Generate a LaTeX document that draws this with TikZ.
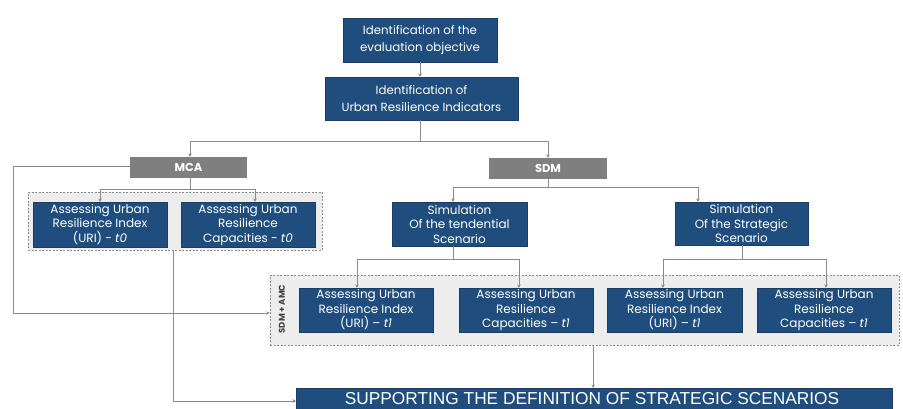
\documentclass[tikz,border=0pt]{standalone}
\usepackage{fontspec}
\setmainfont{Poppins}
\newfontfamily\capsfont{Liberation Sans}
\usetikzlibrary{arrows.meta,calc}
\definecolor{boxblue}{HTML}{1F4E7E}
\definecolor{boxgray}{HTML}{7F7F7F}
\definecolor{linegray}{HTML}{8A8A8A}
\definecolor{panelfill}{HTML}{EDEDED}
\begin{document}
\begin{tikzpicture}[x=1pt,y=-1pt,
  bluebox/.style={fill=boxblue,draw=boxblue!80!black,line width=0.4pt,text=white,inner sep=0pt,
    align=center,font=\fontsize{11.8}{16.7}\selectfont},
  smallbox/.style={bluebox,font=\fontsize{12}{14.5}\selectfont},
  graybox/.style={fill=boxgray,text=white,inner sep=0pt,align=center,
    font=\fontsize{11.5}{12}\selectfont\bfseries},
  panel/.style={fill=panelfill,draw=linegray,line width=0.6pt,dash pattern=on 2pt off 1.5pt},
  link/.style={draw=linegray,line width=0.8pt},
  arr/.style={link,-{Stealth[length=3.5pt,width=3.5pt]}}]
\useasboundingbox (0,0) rectangle (903,408);
\fill[white] (0,0) rectangle (903,408);

% dashed panels
\node[panel,minimum width=294pt,minimum height=58pt,inner sep=0pt] (mcapanel) at (175,221) {};
\node[panel,minimum width=629pt,minimum height=70pt,inner sep=0pt] (sdmpanel) at (584.5,310) {};
\node[rotate=90,font=\fontsize{8.5}{9}\selectfont\bfseries,text=black!75] (panellabel) at (282,309) {SDM + AMC};

% top chain
\node[bluebox,minimum width=154pt,minimum height=44pt] (obj) at (420,40)
  {Identification of the\\evaluation objective};
\node[bluebox,minimum width=193pt,minimum height=43pt] (uri) at (421.5,98.5)
  {Identification of\\Urban Resilience Indicators};

% method boxes
\node[graybox,minimum width=117pt,minimum height=21pt] (mca) at (188.5,167.5) {MCA};
\node[graybox,minimum width=118pt,minimum height=21pt] (sdm) at (548,168.5) {SDM};

% MCA assessments at t0
\node[smallbox,minimum width=134pt,minimum height=45pt] (a0i) at (100,224.5)
  {Assessing Urban\\Resilience Index\\(URI) - \textit{t0}};
\node[smallbox,minimum width=134pt,minimum height=45pt] (a0c) at (248,224.5)
  {Assessing Urban\\Resilience\\Capacities - \textit{t0}};

% SDM simulations
\node[smallbox,minimum width=135pt,minimum height=44pt] (simt) at (459.5,224)
  {Simulation\\Of the tendential\\Scenario};
\node[smallbox,minimum width=133pt,minimum height=43pt] (sims) at (741.5,223.5)
  {Simulation\\Of the Strategic\\Scenario};

% assessments at t1
\node[smallbox,minimum width=134pt,minimum height=44pt] (a1ti) at (366,310)
  {Assessing Urban\\Resilience Index\\(URI) -- \textit{t1}};
\node[smallbox,minimum width=134pt,minimum height=44pt] (a1tc) at (526,310)
  {Assessing Urban\\Resilience\\Capacities -- \textit{t1}};
\node[smallbox,minimum width=135pt,minimum height=44pt] (a1si) at (674.5,310)
  {Assessing Urban\\Resilience Index\\(URI) -- \textit{t1}};
\node[smallbox,minimum width=134pt,minimum height=44pt] (a1sc) at (824,310)
  {Assessing Urban\\Resilience\\Capacities -- \textit{t1}};

% final box (runs past the lower edge)
\node[bluebox,minimum width=596pt,minimum height=32pt,anchor=north west] (support) at (296,388) {};
\node[text=white,font=\capsfont\fontsize{17.3}{18}\selectfont,anchor=base] (supporttext) at (592,404)
  {SUPPORTING THE DEFINITION OF STRATEGIC SCENARIOS};

% junction points
\coordinate (topsplit) at (420,141.5);
\coordinate (mcasplit) at (190,189.5);
\coordinate (sdmsplit) at (548,187);
\coordinate (tsplit) at (453,259);
\coordinate (ssplit) at (742,259);
\coordinate (leftrun) at (13,166);
\coordinate (t0run) at (173,401);

% connectors
\draw[arr] (obj.south) -- (obj.south |- uri.north);
\draw[link] (uri.south -| topsplit) -- (topsplit);
\draw[arr] (topsplit) -| (mca.north -| mcasplit);
\draw[arr] (topsplit) -| (sdm.north);
\draw[link] (mca.south -| mcasplit) -- (mcasplit);
\draw[arr] (mcasplit) -| (a0i.north);
\draw[arr] (mcasplit) -| ($(a0c.north)+(7,0)$);
\draw[link] (sdm.south) -- (sdmsplit);
\draw[arr] (sdmsplit) -| ($(simt.north)+(-6.5,0)$);
\draw[arr] (sdmsplit) -| ($(sims.north)+(-43.5,0)$);
\draw[link] (simt.south -| tsplit) -- (tsplit);
\draw[arr] (tsplit) -| ($(a1ti.north)+(-9,0)$);
\draw[arr] (tsplit) -| ($(a1tc.north)+(-7,0)$);
\draw[link] (sims.south -| ssplit) -- (ssplit);
\draw[arr] (ssplit) -| ($(a1si.north)+(-11.5,0)$);
\draw[arr] (ssplit) -| ($(a1sc.north)+(2,0)$);
\draw[link] (mca.west |- leftrun) -- (leftrun);
\draw[arr] (leftrun) |- (sdmpanel.west |- 0,313);
\draw[link] (mcapanel.south -| t0run) -- (t0run);
\draw[arr] (t0run) -- (support.west |- t0run);
\draw[arr] (sdmpanel.south -| a1tc.east) -- (support.north -| a1tc.east);
\end{tikzpicture}
\end{document}
